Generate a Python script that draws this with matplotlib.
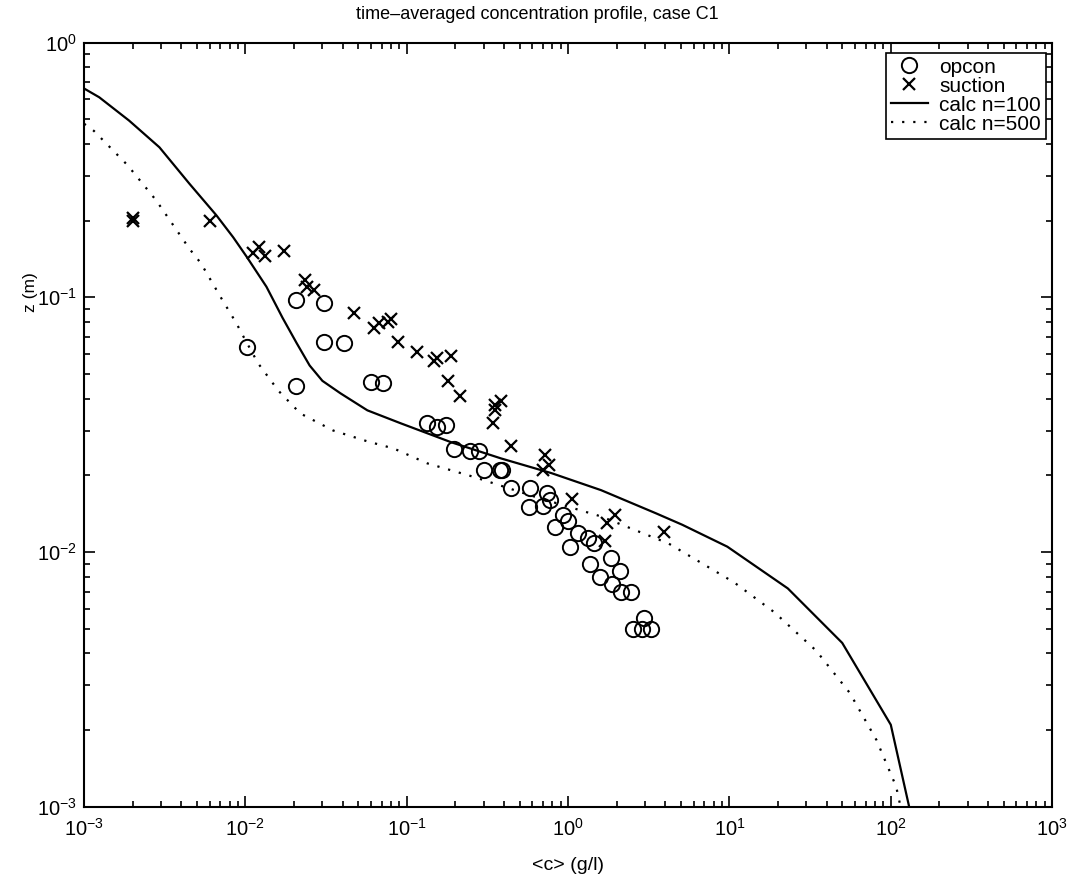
import numpy as np
import matplotlib
matplotlib.use('Agg')
import matplotlib.pyplot as plt
from matplotlib.ticker import LogLocator, NullFormatter

plt.rcParams['font.family'] = ['Liberation Sans', 'DejaVu Sans']
plt.rcParams['mathtext.fontset'] = 'custom'
plt.rcParams['mathtext.rm'] = 'Liberation Sans'
plt.rcParams['mathtext.it'] = 'Liberation Sans'

# measured data: opcon (circles)
c_opcon = [0.0102, 0.0205, 0.0205, 0.0305, 0.0305, 0.041, 0.060, 0.0716,
           0.133, 0.154, 0.176, 0.195, 0.248, 0.282, 0.30, 0.376, 0.39,
           0.445, 0.58, 0.735, 0.77, 0.70, 0.57, 0.93, 1.0, 0.83, 1.15,
           1.32, 1.45, 1.03, 1.85, 2.10, 1.37, 1.58, 1.87, 2.12, 2.46,
           2.94, 2.51, 2.87, 3.28]
z_opcon = [0.064, 0.045, 0.098, 0.095, 0.067, 0.066, 0.0466, 0.046,
           0.032, 0.031, 0.0315, 0.0254, 0.025, 0.025, 0.021, 0.021, 0.021,
           0.0179, 0.0179, 0.0171, 0.016, 0.0152, 0.015, 0.014, 0.0133, 0.0125, 0.0119,
           0.0114, 0.0109, 0.0105, 0.0095, 0.00846, 0.00897, 0.0080, 0.0075, 0.00698, 0.00698,
           0.0055, 0.0050, 0.0050, 0.0050]

# measured data: suction (crosses)
c_suction = [0.002, 0.002, 0.006, 0.0112, 0.0122, 0.0132, 0.0174, 0.0235,
             0.0241, 0.0265, 0.047, 0.063, 0.067, 0.077, 0.080, 0.088, 0.115,
             0.148, 0.154, 0.188, 0.179, 0.215, 0.35, 0.386, 0.35, 0.344,
             0.44, 0.72, 0.76, 0.70, 1.06, 1.74, 1.94, 1.69, 3.92]
z_suction = [0.204, 0.2, 0.2, 0.149, 0.157, 0.145, 0.152, 0.117,
             0.110, 0.107, 0.0868, 0.076, 0.079, 0.080, 0.082, 0.067, 0.061,
             0.056, 0.058, 0.059, 0.047, 0.041, 0.0377, 0.039, 0.036, 0.032,
             0.026, 0.024, 0.0219, 0.021, 0.0161, 0.013, 0.014, 0.0111, 0.012]

# calculated profiles
c_n100 = [0.001, 0.00124, 0.0019, 0.00293, 0.0045, 0.0066, 0.0084, 0.0102,
          0.0135, 0.0170, 0.0208, 0.0250, 0.0300, 0.0388, 0.057, 0.092, 0.188,
          0.385, 0.79, 1.6, 3.5, 5.1, 9.7, 23, 50, 100, 130]
z_n100 = [0.66, 0.61, 0.494, 0.388, 0.279, 0.21, 0.172, 0.144,
          0.11, 0.083, 0.066, 0.054, 0.047, 0.042, 0.036, 0.032, 0.027,
          0.0233, 0.0204, 0.0175, 0.0142, 0.0128, 0.0105, 0.0072, 0.0044, 0.0021, 0.001]

c_n500 = [0.001, 0.00115, 0.00186, 0.0028, 0.0045, 0.0053, 0.0071, 0.0088,
          0.0095, 0.012, 0.016, 0.0219, 0.035, 0.057, 0.083, 0.134, 0.262,
          0.62, 1.6, 4.2, 10.7, 19, 34.5, 55.7, 81.5, 108, 115]
z_n500 = [0.48, 0.45, 0.33, 0.24, 0.155, 0.136, 0.099, 0.079,
          0.072, 0.055, 0.043, 0.035, 0.030, 0.0272, 0.0255, 0.0223, 0.0197,
          0.0165, 0.0138, 0.0108, 0.0076, 0.0058, 0.0041, 0.0028, 0.00183, 0.0012, 0.001]

x_ticks = [1e-3, 1e-2, 1e-1, 1e0, 1e1, 1e2, 1e3]
y_ticks = [1e-3, 1e-2, 1e-1, 1e0]

fig = plt.figure(figsize=(10.78, 8.77), dpi=100)
ax = fig.add_axes([0.078, 0.080, 0.898, 0.8715])

ax.plot(c_opcon, z_opcon, 'o', mfc='none', mec='k', ms=11, mew=1.4, label='opcon')
ax.plot(c_suction, z_suction, 'x', color='k', ms=8, mew=1.6, label='suction')
ax.plot(c_n100, z_n100, '-', color='k', lw=1.6, label='calc n=100')
ax.plot(c_n500, z_n500, color='k', lw=1.6, linestyle=(0, (1, 4)), label='calc n=500')

ax.set_xscale('log')
ax.set_yscale('log')
ax.set_xlim(1e-3, 1e3)
ax.set_ylim(1e-3, 1e0)
ax.set_xticks(x_ticks)
ax.set_yticks(y_ticks)

ax.xaxis.set_minor_locator(LogLocator(base=10, subs=np.arange(2, 10), numticks=20))
ax.yaxis.set_minor_locator(LogLocator(base=10, subs=np.arange(2, 10), numticks=20))
ax.xaxis.set_minor_formatter(NullFormatter())
ax.yaxis.set_minor_formatter(NullFormatter())

ax.tick_params(which='both', direction='in', top=True, right=True, width=1.2)
ax.tick_params(which='major', length=8, labelsize=14.5)
ax.tick_params(axis='x', which='major', pad=8)
ax.tick_params(axis='y', which='major', pad=5)
ax.tick_params(which='minor', length=4)
for s in ax.spines.values():
    s.set_linewidth(1.5)

ax.set_xlabel('<c> (g/l)', fontsize=14, labelpad=12)
ax.set_ylabel('z (m)', fontsize=12.5)
ax.yaxis.set_label_coords(-0.048, 0.674)
ax.set_title('time\u2013averaged concentration profile, case C1', fontsize=13, pad=17,
             x=0.468)

leg = ax.legend(loc='upper right', bbox_to_anchor=(1 - 6 / 968, 1 - 10 / 764),
                numpoints=1, fontsize=15, fancybox=False, borderaxespad=0,
                framealpha=1, edgecolor='k', handlelength=1.75, borderpad=0.25,
                labelspacing=0.0, handletextpad=0.55)
leg.get_frame().set_linewidth(1.2)

fig.savefig('out.png', dpi=100)
